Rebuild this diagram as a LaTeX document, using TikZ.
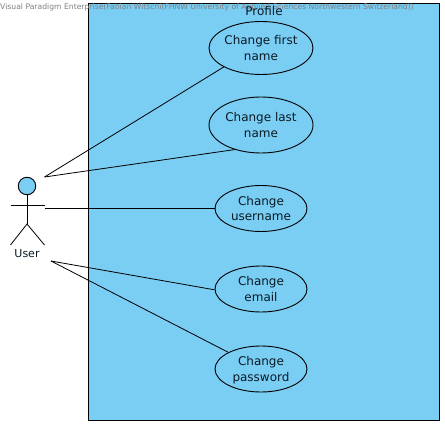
\documentclass[tikz,border=0pt]{standalone}
\usepackage{fontspec}
\setmainfont{DejaVu Sans}
\usetikzlibrary{shapes.geometric}
\definecolor{vpblue}{HTML}{7ACEF4}
\definecolor{vpink}{HTML}{0A1A24}
\tikzset{
  usecase/.style={ellipse,draw=black,line width=0.9pt,fill=vpblue,inner sep=0pt,
    minimum width=#1,align=center,font=\fontsize{12}{15.5}\selectfont,text=vpink},
  link/.style={draw=black,line width=0.8pt},
  stick/.style={draw=black,line width=0.8pt},
}
\begin{document}
\begin{tikzpicture}[x=1pt,y=-1pt]
\useasboundingbox (0,0) rectangle (445,425);
\fill[white] (0,0) rectangle (445,425);
\node[name=system,draw=black,line width=1pt,fill=vpblue,minimum width=351pt,minimum height=417pt,inner sep=0pt] at (264,212) {};
\node[name=watermark,anchor=west,inner sep=0pt,text=black!50,font=\fontsize{7.66}{9}\selectfont] at (0,7.5)
  {Visual Paradigm Enterprise(Fabian Witschi(FHNW University of Applied Sciences Northwestern Switzerland))};
\node[name=title,inner sep=0pt,text=vpink,font=\fontsize{12}{14}\selectfont] at (264,11) {Profile};
\node[usecase=104pt,minimum height=53pt,name=e1] at (261,48) {Change first\\name};
\node[usecase=104pt,minimum height=56pt,name=e2] at (261,125) {Change last\\name};
\node[usecase=92pt,minimum height=46pt,name=e3] at (261,208.5) {Change\\username};
\node[usecase=92pt,minimum height=46pt,name=e4] at (261,289) {Change\\email};
\node[usecase=92pt,minimum height=46pt,name=e5] at (261,369) {Change\\\smash{password}};
% actor
\node[name=head,circle,draw=black,line width=0.9pt,fill=vpblue,minimum size=17.5pt,inner sep=0pt] at (27,186) {};
\coordinate (hip) at (27,224);
\coordinate (armL) at (10.5,205);
\coordinate (armR) at (44.5,205);
\coordinate (legL) at (10.5,245);
\coordinate (legR) at (44.5,245);
\draw[stick] (head) -- (hip);
\draw[stick] (armL) -- (armR);
\draw[stick] (legL) -- (hip) -- (legR);
\node[name=user,inner sep=0pt,text=vpink,font=\fontsize{11}{13}\selectfont] at (27,254) {User};
\coordinate (u1) at (44.5,177);
\coordinate (u2) at (44.5,208.5);
\coordinate (u3) at (51,261);
\draw[link] (u1) -- (e1.207);
\draw[link] (u1) -- (e2.223);
\draw[link] (u2) -- (e3.west);
\draw[link] (u3) -- (e4.181);
\draw[link] (u3) -- (e5.153);
\end{tikzpicture}
\end{document}
